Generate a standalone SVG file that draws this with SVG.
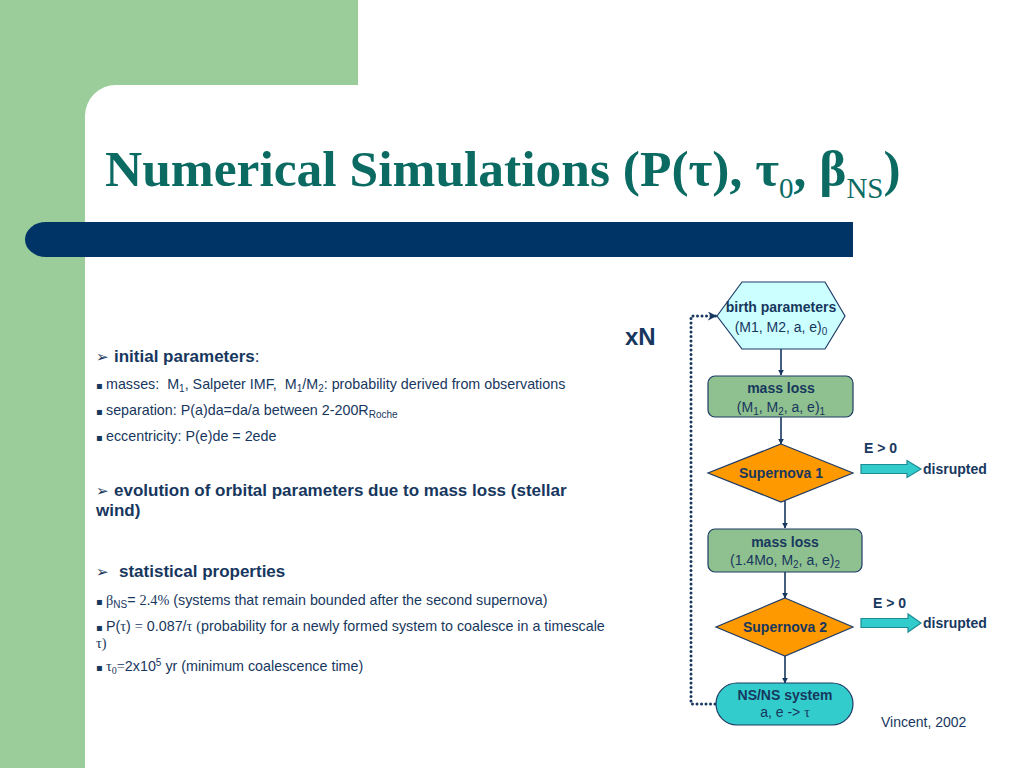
<svg xmlns="http://www.w3.org/2000/svg" width="1024" height="768" viewBox="0 0 1024 768">
<defs>
<style>
.sans{font-family:"Liberation Sans",Arial,sans-serif;fill:#17375E}
.serif{font-family:"Liberation Serif","Times New Roman",serif}
.b{font-weight:bold}
.node{stroke:#1F3B66;stroke-width:1.2}
.conn{stroke:#17375E;stroke-width:1.6;fill:none}
.blk{fill:#33CCCC;stroke:#1C8C94;stroke-width:1.2}
.t14{font-size:14px}
.tb{font-size:14.3px}
.t17{font-size:17px}
.bul{font-family:"DejaVu Sans",sans-serif;font-size:10px}
.arr{font-family:"DejaVu Sans",sans-serif;font-size:15px}
</style>
<marker id="ah" viewBox="0 0 10 10" refX="9" refY="5" markerWidth="6" markerHeight="6" markerUnits="userSpaceOnUse" orient="auto">
<path d="M0,0 L10,5 L0,10 z" fill="#17375E"/>
</marker>
<marker id="ahd" viewBox="0 0 10 10" refX="9" refY="5" markerWidth="9" markerHeight="9" markerUnits="userSpaceOnUse" orient="auto">
<path d="M0,0 L10,5 L0,10 L3,5 z" fill="#17375E"/>
</marker>
</defs>
<rect width="1024" height="768" fill="#FFFFFF"/>
<g id="background">
<rect x="0" y="0" width="358" height="85" fill="#9BCD9B"/>
<rect x="0" y="0" width="85" height="768" fill="#9BCD9B"/>
<path d="M85,85 L116,85 A31,31 0 0 0 85,116 Z" fill="#9BCD9B"/>
<path d="M853,222 H46 A21,17.5 0 0 0 46,257 H853 Z" fill="#003366"/>
</g>
<g id="title">
<text x="105" y="186" class="serif" font-weight="bold" font-size="51.5" fill="#0B6B63">Numerical Simulations (P(τ), τ<tspan font-size="29" font-weight="normal" dy="12">0</tspan><tspan dy="-12">, β</tspan><tspan font-size="29" font-weight="normal" dy="12">NS</tspan><tspan dy="-12">)</tspan></text>
</g>
<g id="bullets">
<text x="96" y="362" class="arr" fill="#17375E">➢</text>
<text x="114" y="362" class="sans t17"><tspan class="b">initial parameters</tspan>:</text>
<text x="96" y="389" class="bul" fill="#17375E">▪</text>
<text x="106" y="389" class="sans tb">masses:&#160; M<tspan font-size="10" dy="3">1</tspan><tspan dy="-3">, Salpeter IMF,&#160; M</tspan><tspan font-size="10" dy="3">1</tspan><tspan dy="-3">/M</tspan><tspan font-size="10" dy="3">2</tspan><tspan dy="-3">: probability derived from observations</tspan></text>
<text x="96" y="415" class="bul" fill="#17375E">▪</text>
<text x="106" y="415" class="sans tb">separation: P(a)da=da/a between 2-200R<tspan font-size="10" dy="3">Roche</tspan></text>
<text x="96" y="441" class="bul" fill="#17375E">▪</text>
<text x="106" y="441" class="sans tb">eccentricity: P(e)de = 2ede</text>
<text x="96" y="496" class="arr" fill="#17375E">➢</text>
<text x="114" y="496" class="sans t17 b">evolution of orbital parameters due to mass loss (stellar</text>
<text x="96" y="516" class="sans t17 b">wind)</text>
<text x="96" y="577" class="arr" fill="#17375E">➢</text>
<text x="119" y="577" class="sans t17 b">statistical properties</text>
<text x="96" y="605" class="bul" fill="#17375E">▪</text>
<text x="106" y="605" class="sans tb"><tspan class="serif">β</tspan><tspan font-size="10" dy="3">NS</tspan><tspan dy="-3">= </tspan><tspan class="serif">2.4%</tspan> (systems that remain bounded after the second supernova)</text>
<text x="96" y="631" class="bul" fill="#17375E">▪</text>
<text x="106" y="631" class="sans tb">P(<tspan class="serif">τ</tspan>) <tspan class="serif">=</tspan> 0.087/<tspan class="serif">τ</tspan> <tspan class="serif">(</tspan>probability for a newly formed system to coalesce in a timescale</text>
<text x="96" y="648" class="sans tb"><tspan class="serif">τ)</tspan></text>
<text x="96" y="671" class="bul" fill="#17375E">▪</text>
<text x="106" y="671" class="sans tb"><tspan class="serif">τ</tspan><tspan class="serif" font-size="10" dy="3">0</tspan><tspan dy="-3" class="serif">=</tspan>2x10<tspan font-size="10" dy="-5">5</tspan><tspan dy="5"> yr (minimum coalescence time)</tspan></text>
</g>
<g id="label-xN">
<text x="625" y="345" class="sans b" font-size="24">xN</text>
</g>
<g id="connectors">
<line x1="781" y1="349" x2="781" y2="375" class="conn" marker-end="url(#ah)"/>
<line x1="781" y1="417" x2="781" y2="444" class="conn" marker-end="url(#ah)"/>
<line x1="785" y1="501" x2="785" y2="528" class="conn" marker-end="url(#ah)"/>
<line x1="785" y1="572" x2="785" y2="598" class="conn" marker-end="url(#ah)"/>
<line x1="785" y1="656" x2="785" y2="683" class="conn" marker-end="url(#ah)"/>
<path d="M715,704 H691 V316 H716" fill="none" stroke="#17375E" stroke-width="3" stroke-linecap="round" stroke-dasharray="0 4.5" marker-end="url(#ahd)"/>
</g>
<g id="birth">
<polygon points="717,316 742,282 825,282 845,316 825,349 742,349" fill="#CCFFFF" class="node"/>
<text x="781" y="312" text-anchor="middle" class="sans b t14">birth parameters</text>
<text x="781" y="332" text-anchor="middle" class="sans t14">(M1, M2, a, e)<tspan font-size="10" dy="3">0</tspan></text>
</g>
<g id="massloss1">
<rect x="708" y="376" width="145" height="41" rx="7" fill="#8FC08F" class="node"/>
<text x="781" y="393" text-anchor="middle" class="sans b t14">mass loss</text>
<text x="781" y="412" text-anchor="middle" class="sans t14">(M<tspan font-size="10" dy="3">1</tspan><tspan dy="-3">, M</tspan><tspan font-size="10" dy="3">2</tspan><tspan dy="-3">, a, e)</tspan><tspan font-size="10" dy="3">1</tspan></text>
</g>
<g id="supernova1">
<polygon points="781,444 853,473 781,502 708,473" fill="#FF9900" class="node"/>
<text x="781" y="478" text-anchor="middle" class="sans b t14">Supernova 1</text>
</g>
<g id="disrupted1">
<polygon points="861,464.5 907,464.5 907,460.5 921,469 907,477.5 907,473.5 861,473.5" class="blk"/>
<text x="864" y="453" class="sans b t14">E &gt; 0</text>
<text x="923" y="474" class="sans b t14">disrupted</text>
</g>
<g id="massloss2">
<rect x="708" y="529" width="154" height="43" rx="7" fill="#8FC08F" class="node"/>
<text x="785" y="547" text-anchor="middle" class="sans b t14">mass loss</text>
<text x="785" y="565" text-anchor="middle" class="sans t14">(1.4Mo, M<tspan font-size="10" dy="3">2</tspan><tspan dy="-3">, a, e)</tspan><tspan font-size="10" dy="3">2</tspan></text>
</g>
<g id="supernova2">
<polygon points="785,598 853,627 785,656 716,627" fill="#FF9900" class="node"/>
<text x="785" y="632" text-anchor="middle" class="sans b t14">Supernova 2</text>
</g>
<g id="disrupted2">
<polygon points="861,618.5 908,618.5 908,614 921,623 908,632 908,627.5 861,627.5" class="blk"/>
<text x="873" y="608" class="sans b t14">E &gt; 0</text>
<text x="923" y="628" class="sans b t14">disrupted</text>
</g>
<g id="nsns">
<rect x="716" y="683" width="137" height="42" rx="21" fill="#33CCCC" class="node"/>
<text x="785" y="700" text-anchor="middle" class="sans b t14">NS/NS system</text>
<text x="785" y="717" text-anchor="middle" class="sans t14">a, e -&gt; <tspan class="serif">τ</tspan></text>
</g>
<g id="credit">
<text x="881" y="727" class="sans t14">Vincent, 2002</text>
</g>
</svg>
